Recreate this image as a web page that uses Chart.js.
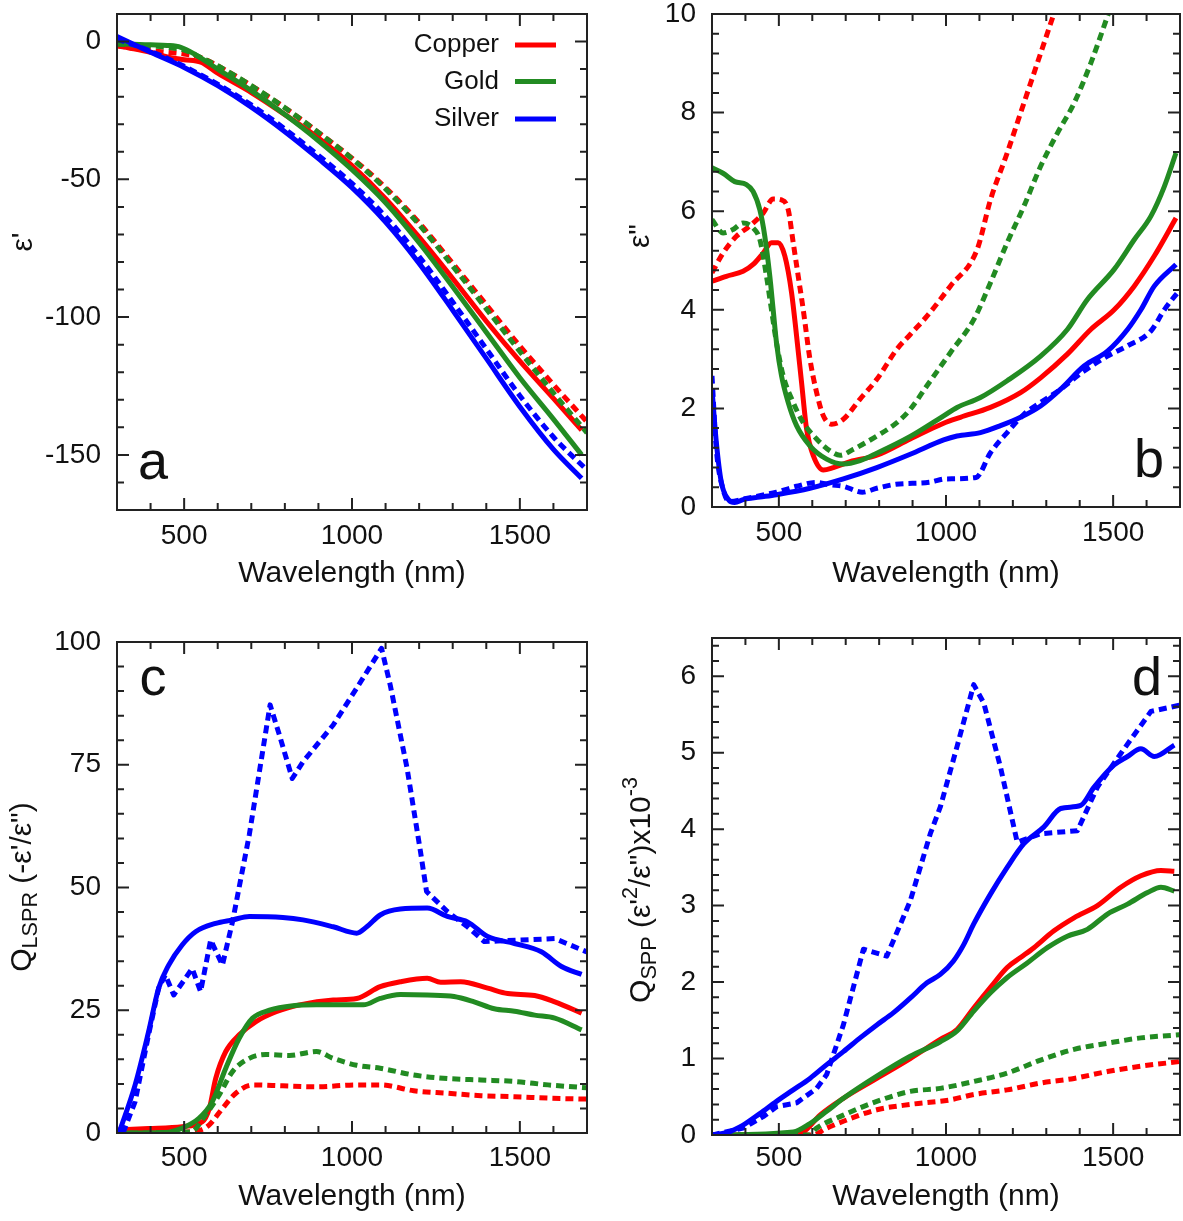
<!DOCTYPE html>
<html>
<head>
<meta charset="utf-8">
<script src="https://cdn.jsdelivr.net/npm/chart.js@4.4.1/dist/chart.umd.min.js"></script>
<style>
html, body { margin: 0; padding: 0; background: #fff; }
#lienzo { position: relative; width: 1183px; height: 1221px; }
canvas { position: absolute; }
</style>
</head>
<body>
<div id="lienzo">
  <canvas id="panelA" width="591" height="605" style="left:0;top:0"></canvas>
  <canvas id="panelB" width="592" height="605" style="left:591px;top:0"></canvas>
  <canvas id="panelC" width="591" height="616" style="left:0;top:605px"></canvas>
  <canvas id="panelD" width="592" height="616" style="left:591px;top:605px"></canvas>
</div>
<script>
'use strict';

// Marcas de los ejes
const ticksX = [500, 1000, 1500];
const ticksYa = [-150, -100, -50, 0];
const ticksYb = [0, 2, 4, 6, 8, 10];
const ticksYc = [0, 25, 50, 75, 100];
const ticksYd = [0, 1, 2, 3, 4, 5, 6];

// (a) epsilon' : [longitud de onda nm, valor]
const aCuSolid = [[300,-1.5],[350,-2.6],[400,-3.9],[450,-5.6],[500,-6.6],[550,-7.5],[600,-11.5],[700,-18.5],[800,-26.5],[900,-35],[1000,-45],[1100,-57],[1200,-71],[1300,-86],[1400,-101.5],[1500,-116],[1600,-129.5],[1684,-141]];
const aCuDash = [[300,-1.5],[400,-3.3],[450,-3.9],[500,-4.5],[550,-5.8],[600,-8.8],[700,-16],[800,-24],[900,-33],[1000,-42.3],[1100,-53],[1200,-65.8],[1300,-80.5],[1400,-95.5],[1500,-110.5],[1600,-124.5],[1700,-138]];
const aAuSolid = [[300,-0.9],[350,-1.0],[400,-1.2],[450,-1.4],[490,-2.1],[530,-4.5],[600,-10],[700,-17.8],[800,-26.5],[900,-36],[1000,-46.5],[1100,-58.5],[1200,-73],[1300,-89],[1400,-105.5],[1500,-122],[1600,-137],[1684,-150]];
const aAuDash = [[300,-0.9],[400,-1.6],[450,-2.1],[500,-3.1],[550,-5.8],[600,-8.8],[700,-16],[800,-24],[900,-33],[1000,-42.5],[1100,-53.5],[1200,-66.5],[1300,-81.5],[1400,-97],[1500,-112.5],[1600,-127.5],[1700,-142]];
const aAgSolid = [[300,1.8],[400,-3.9],[500,-9.4],[600,-16],[700,-23.8],[800,-32.7],[900,-42.5],[1000,-53],[1100,-65.5],[1200,-80.5],[1300,-97.5],[1400,-115],[1500,-132.5],[1600,-148],[1684,-158.5]];
const aAgDash = [[300,0.9],[400,-3.5],[500,-9],[600,-15.5],[700,-23],[800,-31.7],[900,-41.3],[1000,-51.5],[1100,-63.5],[1200,-78],[1300,-94.5],[1400,-111.5],[1500,-128.5],[1600,-143.5],[1700,-155.5]];

// (b) epsilon''
const bCuSolid = [[300,4.58],[343,4.68],[393,4.78],[423,4.92],[453,5.15],[478,5.36],[498,5.36],[518,5.09],[538,4.35],[553,3.47],[568,2.52],[583,1.58],[603,1.04],[633,0.75],[663,0.8],[713,0.92],[793,1.05],[893,1.38],[993,1.7],[1043,1.82],[1133,2.02],[1223,2.32],[1283,2.62],[1363,3.1],[1433,3.6],[1503,4.0],[1563,4.48],[1623,5.09],[1688,5.86]];
const bCuDash = [[300,4.75],[333,5.15],[373,5.49],[413,5.7],[453,5.96],[483,6.25],[508,6.23],[528,6.03],[543,5.36],[558,4.68],[573,4.0],[593,3.0],[613,2.32],[633,1.85],[658,1.68],[693,1.78],[743,2.19],[793,2.59],[853,3.2],[893,3.5],[943,3.87],[1013,4.48],[1093,5.22],[1133,6.23],[1183,7.18],[1223,7.99],[1273,9.0],[1325,10.05]];
const bAuSolid = [[300,6.88],[333,6.77],[368,6.6],[403,6.54],[423,6.4],[443,6.03],[458,5.49],[473,4.68],[483,4.0],[493,3.33],[508,2.66],[528,2.12],[553,1.65],[593,1.24],[643,0.97],[693,0.87],[743,0.94],[793,1.09],[893,1.43],[993,1.85],[1033,2.02],[1103,2.22],[1183,2.56],[1283,3.06],[1363,3.6],[1423,4.21],[1503,4.82],[1563,5.42],[1613,5.9],[1653,6.5],[1688,7.18]];
const bAuDash = [[300,5.83],[333,5.56],[363,5.63],[393,5.76],[423,5.66],[443,5.43],[463,4.68],[478,4.0],[493,3.33],[513,2.66],[543,2.12],[573,1.71],[613,1.38],[653,1.14],[683,1.05],[723,1.17],[793,1.44],[853,1.71],[893,1.98],[943,2.46],[1013,3.13],[1083,3.8],[1133,4.55],[1183,5.36],[1233,6.1],[1283,6.91],[1333,7.58],[1383,8.19],[1433,9.0],[1488,10.05]];
const bAgSolid = [[300,2.39],[313,1.31],[328,0.5],[348,0.16],[368,0.09],[393,0.15],[443,0.2],[493,0.25],[593,0.38],[693,0.57],[793,0.8],[893,1.07],[993,1.36],[1033,1.44],[1103,1.51],[1163,1.65],[1223,1.82],[1283,2.05],[1343,2.39],[1413,2.86],[1483,3.16],[1543,3.6],[1583,4.0],[1623,4.48],[1688,4.92]];
const bAgDash = [[300,2.66],[313,1.17],[333,0.36],[353,0.11],[393,0.16],[443,0.23],[493,0.3],[553,0.42],[613,0.5],[653,0.45],[693,0.42],[750,0.3],[793,0.38],[850,0.46],[950,0.5],[1000,0.57],[1090,0.6],[1133,1.1],[1183,1.51],[1233,1.88],[1283,2.12],[1343,2.39],[1413,2.76],[1483,3.06],[1543,3.27],[1613,3.57],[1653,4.0],[1700,4.41]];

// (c) Q LSPR
const cCuSolid = [[300,0.6],[394,0.9],[494,1.3],[554,2.3],[575,5],[594,11.1],[624,16.6],[664,20],[714,22.7],[774,24.7],[844,26.1],[944,27.1],[1014,27.4],[1084,29.8],[1144,30.8],[1224,31.5],[1264,30.7],[1324,30.8],[1404,29.5],[1464,28.4],[1544,28],[1604,26.7],[1684,24.4]];
const cCuDash = [[300,0],[500,0.2],[544,0.5],[574,1.6],[614,5],[654,8.1],[704,9.8],[794,9.6],[894,9.4],[1014,9.8],[1084,9.8],[1184,8.6],[1284,8.1],[1384,7.6],[1484,7.4],[1584,7.1],[1699,6.9]];
const cAuSolid = [[300,0],[444,0.1],[494,1],[544,3],[584,6.4],[624,13.2],[664,19.3],[704,23.4],[754,25],[824,25.9],[894,26.1],[1034,26.1],[1084,27.4],[1144,28.2],[1224,28.1],[1304,27.8],[1364,26.7],[1424,25.3],[1484,24.8],[1544,24],[1604,23.4],[1684,21]];
const cAuDash = [[300,0],[520,0.2],[564,3.7],[604,7.7],[644,12.5],[694,15.2],[744,16],[814,15.8],[894,16.6],[944,15.2],[1014,13.8],[1084,13.2],[1184,11.8],[1284,11.1],[1384,10.8],[1484,10.5],[1584,9.8],[1699,9.2]];
const cAgSolid = [[306,0],[354,9.8],[394,20.6],[424,29.5],[454,34.2],[494,38.3],[534,41],[594,42.7],[644,43.4],[694,44.1],[794,43.9],[854,43.4],[944,42],[1014,40.7],[1044,42],[1084,44.4],[1144,45.6],[1224,45.8],[1284,44.1],[1344,43],[1404,40],[1484,38.6],[1564,36.9],[1624,33.9],[1684,32.3]];
const cAgDash = [[318,0],[354,6.4],[394,20],[424,29.5],[444,32.2],[469,28.1],[524,33.5],[549,28.8],[579,39.3],[614,34.2],[644,43],[694,60.7],[756,87.2],[784,81],[822,72.2],[854,75.6],[944,83.1],[1014,90.6],[1088,98.7],[1114,91.2],[1164,74.3],[1204,57.3],[1222,49.2],[1284,45.1],[1344,42],[1394,39],[1434,39.1],[1504,39.3],[1604,39.6],[1699,36.9]];

// (d) Q SPP x10^-3
const dCuSolid = [[300,0],[520,0],[573,0.04],[623,0.26],[693,0.48],[793,0.74],[893,1.0],[983,1.25],[1033,1.38],[1083,1.66],[1133,1.93],[1183,2.19],[1223,2.32],[1263,2.45],[1323,2.67],[1383,2.84],[1453,3.0],[1523,3.24],[1583,3.39],[1643,3.46],[1683,3.45]];
const dCuDash = [[300,0],[600,0],[643,0.09],[693,0.18],[793,0.33],[893,0.4],[1013,0.46],[1083,0.53],[1183,0.59],[1283,0.68],[1383,0.74],[1483,0.83],[1583,0.9],[1698,0.96]];
const dAuSolid = [[300,0],[543,0.04],[593,0.15],[643,0.31],[693,0.48],[793,0.77],[893,1.03],[983,1.22],[1033,1.36],[1083,1.62],[1133,1.86],[1183,2.06],[1243,2.25],[1303,2.45],[1363,2.6],[1423,2.69],[1483,2.89],[1543,3.02],[1603,3.17],[1643,3.24],[1683,3.19]];
const dAuDash = [[300,0],[590,0],[613,0.09],[693,0.26],[793,0.44],[893,0.57],[983,0.61],[1083,0.7],[1183,0.81],[1283,0.98],[1383,1.12],[1483,1.2],[1583,1.27],[1698,1.31]];
const dAgSolid = [[301,0],[343,0.03],[393,0.13],[443,0.28],[493,0.44],[543,0.59],[593,0.74],[643,0.92],[693,1.09],[743,1.27],[793,1.44],[843,1.6],[893,1.79],[943,1.99],[983,2.1],[1023,2.28],[1053,2.49],[1083,2.76],[1133,3.15],[1183,3.5],[1233,3.81],[1293,4.03],[1343,4.27],[1403,4.31],[1443,4.55],[1503,4.84],[1543,4.95],[1583,5.05],[1623,4.95],[1683,5.1]];
const dAgDash = [[300,0],[393,0.09],[453,0.24],[493,0.37],[553,0.42],[613,0.61],[643,0.79],[693,1.44],[753,2.43],[823,2.34],[893,3.06],[953,3.94],[983,4.29],[1033,5.08],[1083,5.89],[1113,5.65],[1163,4.81],[1213,3.83],[1283,3.94],[1393,3.98],[1453,4.55],[1523,4.99],[1613,5.54],[1698,5.62]];

const ROJO = '#ff0000', VERDE = '#228b22', AZUL = '#0000ff';
const TINTA = '#111';
const FUENTE = '"Liberation Sans", Arial, Helvetica, sans-serif';

function serie(puntos, color, discontinua, recta) {
    return {
        data: puntos.map(p => ({ x: p[0], y: p[1] })),
        borderColor: color,
        backgroundColor: color,
        borderWidth: 5,
        borderDash: discontinua ? [8, 5] : [],
        borderCapStyle: 'butt',
        borderJoinStyle: 'round',
        pointRadius: 0,
        fill: false,
        tension: 0,
        cubicInterpolationMode: recta ? 'default' : 'monotone'
    };
}

// Orden de gnuplot (el último queda encima); Chart.js pinta el índice 0 encima
function grupo(cuS, cuD, auS, auD, agS, agD, agRecta) {
    return [
        serie(cuS, ROJO, false), serie(cuD, ROJO, true),
        serie(auS, VERDE, false), serie(auD, VERDE, true),
        serie(agS, AZUL, false), serie(agD, AZUL, true, agRecta)
    ].reverse();
}

function textoRico(ctx, partes, cx, cy, tam) {
    let total = 0;
    partes.forEach(p => {
        ctx.font = (p.s ? tam * 0.72 : tam) + 'px ' + FUENTE;
        p.w = ctx.measureText(p.t).width;
        total += p.w;
    });
    ctx.save();
    ctx.translate(cx, cy);
    ctx.rotate(-Math.PI / 2);
    ctx.textAlign = 'left';
    ctx.textBaseline = 'middle';
    let x = -total / 2;
    partes.forEach(p => {
        ctx.font = (p.s ? tam * 0.72 : tam) + 'px ' + FUENTE;
        const dy = p.s === 'sub' ? tam * 0.28 : (p.s === 'sup' ? -tam * 0.38 : 0);
        ctx.fillText(p.t, x, dy);
        x += p.w;
    });
    ctx.restore();
}

function decoracion(cfg) {
    return {
        id: 'decoracion',
        afterDraw(chart) {
            const ctx = chart.ctx;
            const a = chart.chartArea;
            const sx = chart.scales.x, sy = chart.scales.y;
            ctx.save();
            ctx.strokeStyle = '#222';
            ctx.lineWidth = 2;
            ctx.strokeRect(a.left, a.top, a.right - a.left, a.bottom - a.top);

            // marcas hacia dentro en los cuatro lados
            const marcas = (escala, paso, mayores) => {
                const res = [];
                const n = Math.round((escala.max - escala.min) / paso);
                for (let i = 0; i <= n; i++) {
                    const v = +(escala.min + i * paso).toFixed(6);
                    if (v <= escala.min || v >= escala.max) continue;
                    res.push({ v, mayor: mayores.some(m => Math.abs(m - v) < 1e-6) });
                }
                return res;
            };
            ctx.lineWidth = 2;
            ctx.beginPath();
            marcas(sx, 100, ticksX).forEach(m => {
                const px = sx.getPixelForValue(m.v);
                const l = m.mayor ? 12 : 7;
                ctx.moveTo(px, a.bottom); ctx.lineTo(px, a.bottom - l);
                ctx.moveTo(px, a.top); ctx.lineTo(px, a.top + l);
            });
            marcas(sy, cfg.menorY, cfg.ticksY).forEach(m => {
                const py = sy.getPixelForValue(m.v);
                const l = m.mayor ? 12 : 7;
                ctx.moveTo(a.left, py); ctx.lineTo(a.left + l, py);
                ctx.moveTo(a.right, py); ctx.lineTo(a.right - l, py);
            });
            ctx.stroke();

            ctx.fillStyle = TINTA;
            textoRico(ctx, cfg.tituloY, cfg.tituloYx, cfg.tituloYy, 30);

            // letra del panel
            ctx.font = '54px ' + FUENTE;
            ctx.textAlign = 'center';
            ctx.textBaseline = 'alphabetic';
            ctx.fillText(cfg.letra[0], cfg.letra[1], cfg.letra[2]);

            if (cfg.leyenda) {
                ctx.font = '26px ' + FUENTE;
                ctx.textAlign = 'right';
                ctx.textBaseline = 'middle';
                cfg.leyenda.forEach(e => {
                    ctx.fillStyle = TINTA;
                    ctx.fillText(e.nombre, 499, e.y);
                    ctx.strokeStyle = e.color;
                    ctx.lineWidth = 5;
                    ctx.beginPath();
                    ctx.moveTo(515, e.y); ctx.lineTo(556, e.y);
                    ctx.stroke();
                });
            }
            ctx.restore();
        }
    };
}

function sinRelleno(s) {
    s.paddingLeft = 0; s.paddingRight = 0; s.paddingTop = 0; s.paddingBottom = 0;
}

function crearPanel(id, cfg) {
    const canvas = document.getElementById(id);
    return new Chart(canvas.getContext('2d'), {
        type: 'line',
        data: { datasets: cfg.series },
        options: {
            responsive: false,
            animation: false,
            events: [],
            layout: { padding: cfg.margen },
            plugins: { legend: { display: false }, tooltip: { enabled: false } },
            scales: {
                x: {
                    type: 'linear',
                    min: 300,
                    max: 1700,
                    afterBuildTicks: s => { s.ticks = ticksX.map(v => ({ value: v })); },
                    afterFit: s => { s.height = cfg.altoX; sinRelleno(s); },
                    grid: { display: false, drawTicks: false },
                    border: { display: false },
                    ticks: {
                        padding: cfg.sepX, color: TINTA, maxRotation: 0, autoSkip: false,
                        font: { family: FUENTE, size: 28 },
                        callback: v => String(v)
                    },
                    title: {
                        display: true, text: 'Wavelength (nm)', color: TINTA,
                        font: { family: FUENTE, size: 30 },
                        padding: { top: 0, bottom: cfg.sepTitulo }
                    }
                },
                y: {
                    type: 'linear',
                    min: cfg.yMin,
                    max: cfg.yMax,
                    afterBuildTicks: s => { s.ticks = cfg.ticksY.map(v => ({ value: v })); },
                    afterFit: s => { s.width = cfg.anchoY; sinRelleno(s); },
                    grid: { display: false, drawTicks: false },
                    border: { display: false },
                    ticks: {
                        padding: 16, color: TINTA, autoSkip: false,
                        font: { family: FUENTE, size: 28 },
                        callback: v => String(v)
                    }
                }
            }
        },
        plugins: [decoracion(cfg)]
    });
}

crearPanel('panelA', {
    series: grupo(aCuSolid, aCuDash, aAuSolid, aAuDash, aAgSolid, aAgDash, false),
    margen: { left: 0, top: 14, right: 4, bottom: 0 },
    anchoY: 117, altoX: 95, sepX: 9, sepTitulo: 13,
    yMin: -170, yMax: 10, ticksY: ticksYa, menorY: 10,
    tituloY: [{ t: "ε'" }], tituloYx: 24, tituloYy: 242,
    letra: ['a', 153, 479],
    leyenda: [
        { nombre: 'Copper', color: ROJO, y: 45 },
        { nombre: 'Gold', color: VERDE, y: 81.5 },
        { nombre: 'Silver', color: AZUL, y: 119 }
    ]
});

crearPanel('panelB', {
    series: grupo(bCuSolid, bCuDash, bAuSolid, bAuDash, bAgSolid, bAgDash, false),
    margen: { left: 0, top: 14, right: 3, bottom: 0 },
    anchoY: 121, altoX: 98, sepX: 9, sepTitulo: 13,
    yMin: 0, yMax: 10, ticksY: ticksYb, menorY: 0.4,
    tituloY: [{ t: 'ε"' }], tituloYx: 50, tituloYy: 236,
    letra: ['b', 558, 477]
});

crearPanel('panelC', {
    series: grupo(cCuSolid, cCuDash, cAuSolid, cAuDash, cAgSolid, cAgDash, true),
    margen: { left: 0, top: 37, right: 4, bottom: 0 },
    anchoY: 117, altoX: 88, sepX: 8, sepTitulo: 6,
    yMin: 0, yMax: 100, ticksY: ticksYc, menorY: 5,
    tituloY: [{ t: 'Q' }, { t: 'LSPR', s: 'sub' }, { t: " (-ε'/ε\")" }], tituloYx: 23, tituloYy: 282,
    letra: ['c', 153, 90]
});

crearPanel('panelD', {
    series: grupo(dCuSolid, dCuDash, dAuSolid, dAuDash, dAgSolid, dAgDash, true),
    margen: { left: 0, top: 33, right: 3, bottom: 0 },
    anchoY: 121, altoX: 86, sepX: 6, sepTitulo: 6,
    yMin: 0, yMax: 6.5, ticksY: ticksYd, menorY: 0.2,
    tituloY: [{ t: 'Q' }, { t: 'SPP', s: 'sub' }, { t: " (ε'" }, { t: '2', s: 'sup' }, { t: '/ε")x10' }, { t: '-3', s: 'sup' }],
    tituloYx: 51, tituloYy: 285,
    letra: ['d', 556, 90]
});
</script>
</body>
</html>
